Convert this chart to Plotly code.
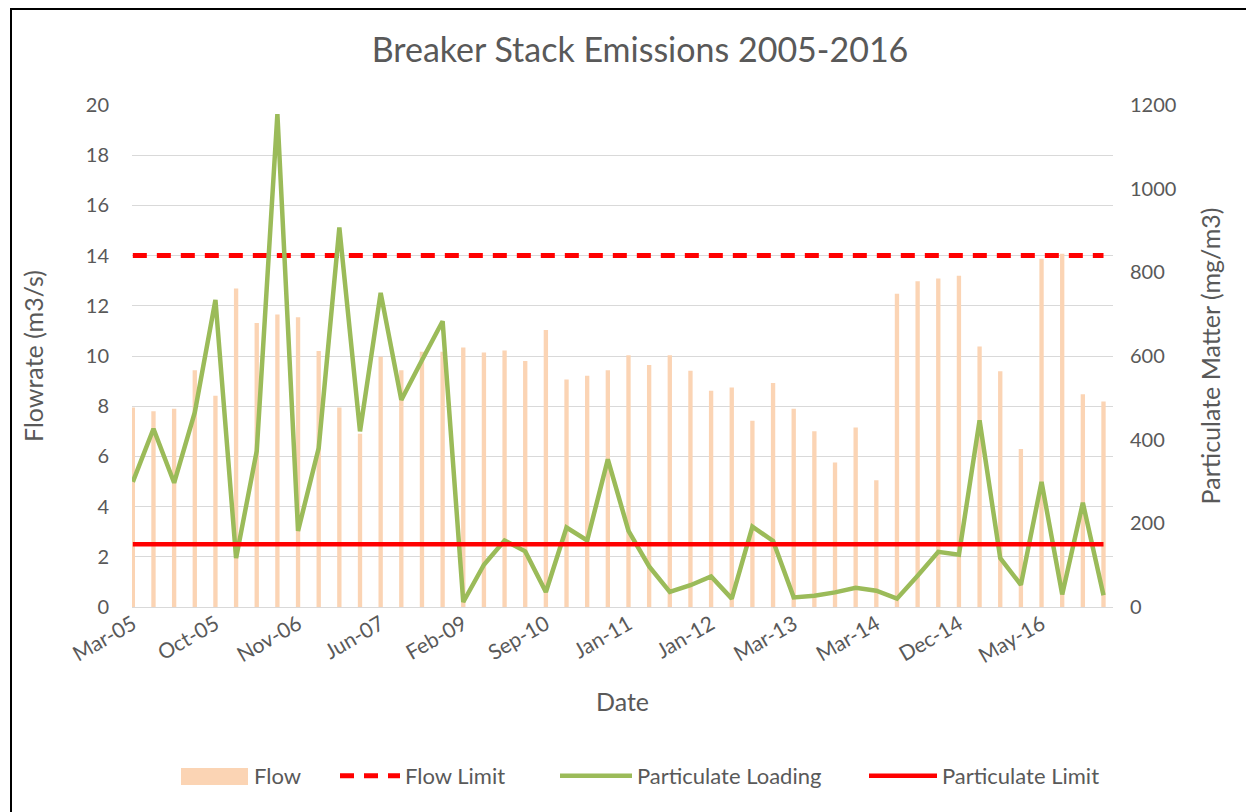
import plotly.graph_objects as go

# ---- data ----
x_index = list(range(48))
tick_positions = [0, 4, 8, 12, 16, 20, 24, 28, 32, 36, 40, 44]
tick_labels = ["Mar-05", "Oct-05", "Nov-06", "Jun-07", "Feb-09", "Sep-10",
               "Jan-11", "Jan-12", "Mar-13", "Mar-14", "Dec-14", "May-16"]

flow = [7.95, 7.8, 7.9, 9.43, 8.42, 12.69, 11.31, 11.65, 11.54, 10.2, 7.95, 6.9,
        9.97, 9.43, 10.17, 10.17, 10.34, 10.14, 10.22, 9.8, 11.04, 9.06, 9.21, 9.43,
        10.03, 9.64, 10.03, 9.41, 8.62, 8.75, 7.42, 8.92, 7.9, 7.0, 5.76, 7.15,
        5.05, 12.48, 12.98, 13.09, 13.2, 10.38, 9.39, 6.29, 13.87, 14.07, 8.48, 8.19]

particulate = [299, 426, 297, 465, 734, 117, 373, 1178, 182, 380, 907, 420,
               751, 495, 590, 683, 12, 101, 159, 133, 36, 190, 159, 353,
               182, 97, 36, 52, 73, 20, 192, 158, 23, 27, 35, 46,
               39, 20, 75, 132, 125, 446, 117, 53, 299, 30, 249, 28]

flow_limit_value = 14
particulate_limit_value = 150

flow_limit = [flow_limit_value] * len(x_index)
particulate_limit = [particulate_limit_value] * len(x_index)

# ---- figure ----
FONT = "Lato"
GREY = "#595959"
PEACH = "#FBD4B4"

# page has an 8px body margin; work in page pixel coordinates
OFF = 8
W, H = 1246, 804
plot_left, plot_right, plot_top, plot_bottom = 132, 1113, 105, 607  # page px
ml = plot_left - OFF
mr = W - (plot_right - OFF)
mt = plot_top - OFF
mb = H - (plot_bottom - OFF)
pw = W - ml - mr
ph = H - mt - mb


def px_x(p):
    return (p - plot_left) / pw


def px_y(p):
    return (plot_bottom - p) / ph


fig = go.Figure()
fig.add_trace(go.Bar(x=x_index, y=flow, name="Flow", width=0.21,
                     marker=dict(color=PEACH, line=dict(width=0)), yaxis="y",
                     legend="legend"))
fig.add_trace(go.Scatter(x=x_index, y=flow_limit, name="Flow Limit", mode="lines",
                         line=dict(color="#FF0000", width=5, dash="14px,10px"), yaxis="y",
                         legend="legend2"))
fig.add_trace(go.Scatter(x=x_index, y=particulate, name="Particulate Loading", mode="lines",
                         line=dict(color="#9BBB59", width=4.5), yaxis="y2",
                         legend="legend3"))
fig.add_trace(go.Scatter(x=x_index, y=particulate_limit, name="Particulate Limit", mode="lines",
                         line=dict(color="#FF0000", width=4.5), yaxis="y2",
                         legend="legend4"))

LEG_Y = px_y(776)


def leg(x_page, iw):
    return dict(orientation="h", x=px_x(x_page), xanchor="left", y=LEG_Y, yanchor="middle",
                font=dict(size=22, color=GREY, family=FONT), itemwidth=iw,
                bgcolor="rgba(0,0,0,0)", borderwidth=0)


fig.update_layout(
    width=W, height=H,
    margin=dict(l=ml, r=mr, t=mt, b=mb, autoexpand=False),
    paper_bgcolor="white", plot_bgcolor="white",
    font=dict(family=FONT, color=GREY, size=20),
    title=dict(text="Breaker Stack Emissions 2005-2016", xref="paper", x=px_x(640),
               xanchor="center", yref="container", y=1 - (50 - OFF) / H, yanchor="middle",
               font=dict(size=34, color=GREY, family=FONT)),
    showlegend=True,
    legend=leg(174, 70),
    legend2=leg(335, 60),
    legend3=leg(555, 72),
    legend4=leg(864, 68),
    xaxis=dict(range=[-0.04, 47.46], tickmode="array", tickvals=tick_positions,
               ticktext=tick_labels, tickangle=-30, showgrid=False, zeroline=False,
               showline=False, ticks="", tickfont=dict(size=21, color=GREY),
               title=dict(text="Date", font=dict(size=25, color=GREY), standoff=27),
               automargin=False),
    yaxis=dict(range=[0, 20], dtick=2, showgrid=True, gridcolor="#D9D9D9", gridwidth=1.3,
               zeroline=True, zerolinecolor="#D9D9D9", zerolinewidth=1.3, showline=False,
               tickfont=dict(size=20, color=GREY), ticklabelstandoff=22,
               title=dict(text="Flowrate (m3/s)", font=dict(size=25, color=GREY), standoff=35),
               automargin=False),
    yaxis2=dict(range=[0, 1200], dtick=200, overlaying="y", side="right", showgrid=False,
                zeroline=False, showline=False, tickfont=dict(size=20, color=GREY),
                ticklabelstandoff=16,
                title=dict(text="Particulate Matter (mg/m3)", font=dict(size=25, color=GREY),
                           standoff=27),
                automargin=False),
    shapes=[
        dict(type="rect", xref="paper", yref="paper",
             x0=px_x(11), x1=px_x(1300), y0=px_y(860), y1=px_y(9),
             line=dict(color="black", width=2), fillcolor="rgba(0,0,0,0)", layer="below"),
        dict(type="rect", xref="paper", yref="paper",
             x0=px_x(181), x1=px_x(248), y0=px_y(785), y1=px_y(768),
             line=dict(width=0), fillcolor=PEACH, layer="below"),
    ],
)

fig.write_html("out.html")
